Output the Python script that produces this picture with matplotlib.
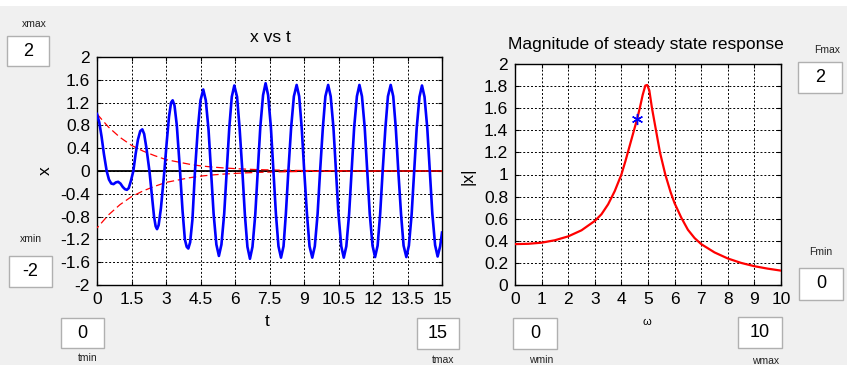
import matplotlib
matplotlib.use("Agg")
import matplotlib.pyplot as plt
from matplotlib.patches import Rectangle

plt.rcParams['font.family'] = ['Liberation Sans', 'DejaVu Sans']
plt.rcParams['axes.unicode_minus'] = False

# time response x(t)
t_vals = [0, 0.1, 0.2, 0.3, 0.42, 0.52, 0.62, 0.72, 0.82, 0.92, 1.02, 1.12, 1.22, 1.3,
          1.38, 1.47, 1.58, 1.68, 1.78, 1.88, 1.97, 2.05, 2.15, 2.28, 2.38, 2.48, 2.55,
          2.61, 2.68, 2.78, 2.93, 3.03, 3.13, 3.22, 3.29, 3.37, 3.47, 3.61, 3.72, 3.82,
          3.9, 3.97, 4.05, 4.15, 4.26,
          4.38, 4.50, 4.62, 4.73, 4.85, 4.96,
          5.07, 5.19, 5.30, 5.41, 5.53, 5.64,
          5.75, 5.86, 5.97, 6.09, 6.20, 6.32,
          6.43, 6.54, 6.65, 6.76, 6.88, 6.99,
          7.10, 7.22, 7.33, 7.44, 7.56, 7.67,
          7.78, 7.89, 8.00, 8.11, 8.21, 8.32,
          8.44, 8.56, 8.68, 8.79, 8.90, 9.01,
          9.13, 9.24, 9.36, 9.47, 9.59, 9.70,
          9.82, 9.93, 10.05, 10.16, 10.28, 10.39,
          10.50, 10.62, 10.73, 10.84, 10.96, 11.07,
          11.18, 11.30, 11.41, 11.52, 11.64, 11.75,
          11.86, 11.98, 12.09, 12.20, 12.31, 12.42,
          12.54, 12.65, 12.77, 12.88, 12.99, 13.10,
          13.22, 13.33, 13.45, 13.56, 13.68, 13.79,
          13.90, 14.02, 14.13, 14.24, 14.36, 14.47,
          14.58, 14.70, 14.81, 14.92, 15.0]
x_vals = [1.0, 0.85, 0.6, 0.3, 0.0, -0.15, -0.22, -0.23, -0.2, -0.19, -0.22, -0.28, -0.32, -0.33,
          -0.3, -0.18, 0.0, 0.3, 0.55, 0.7, 0.73, 0.65, 0.4, 0.0, -0.4, -0.8, -0.97,
          -1.02, -0.95, -0.65, 0.0, 0.5, 0.95, 1.2, 1.24, 1.15, 0.8, 0.0, -0.7, -1.2,
          -1.33, -1.36, -1.25, -0.85, 0.0,
          0.72, 1.24, 1.43, 1.24, 0.72, 0.0,
          -0.75, -1.29, -1.49, -1.29, -0.75, 0.0,
          0.75, 1.30, 1.50, 1.30, 0.75, 0.0,
          -0.77, -1.33, -1.54, -1.33, -0.77, 0.0,
          0.77, 1.33, 1.54, 1.33, 0.77, 0.0,
          -0.76, -1.32, -1.52, -1.32, -0.76, 0.0,
          0.76, 1.31, 1.51, 1.31, 0.76, 0.0,
          -0.76, -1.32, -1.52, -1.32, -0.76, 0.0,
          0.76, 1.31, 1.51, 1.31, 0.76, 0.0,
          -0.76, -1.32, -1.52, -1.32, -0.76, 0.0,
          0.76, 1.31, 1.51, 1.31, 0.76, 0.0,
          -0.76, -1.31, -1.51, -1.31, -0.76, 0.0,
          0.76, 1.31, 1.51, 1.31, 0.76, 0.0,
          -0.76, -1.31, -1.51, -1.31, -0.76, 0.0,
          0.75, 1.30, 1.50, 1.30, 0.75, 0.0,
          -0.75, -1.30, -1.50, -1.32, -1.08]

# decay envelope of the transient
env_t = [0, 0.5, 1, 1.5, 2, 2.5, 3, 3.5, 4, 4.5, 5, 5.5, 6, 6.5, 7, 7.5, 8, 9, 10,
         11, 12, 13, 14, 15]
env_x = [1.0, 0.77, 0.59, 0.45, 0.35, 0.27, 0.2, 0.16, 0.12, 0.09, 0.07, 0.054, 0.042,
         0.032, 0.024, 0.019, 0.014, 0.008, 0.005, 0.003, 0.002, 0.001, 0.0006, 0.0004]

# steady state amplitude vs forcing frequency
w_vals = [0, 0.5, 1, 1.5, 2, 2.5, 3, 3.25, 3.5, 3.75, 4, 4.15, 4.3, 4.45, 4.6, 4.7, 4.8,
          4.9, 4.97, 5.05, 5.15, 5.3, 5.45, 5.65, 5.85, 6, 6.25, 6.5, 6.75, 7, 7.5, 8,
          8.5, 9, 9.5, 10]
mag_vals = [0.37, 0.373, 0.383, 0.405, 0.44, 0.495, 0.58, 0.64, 0.73, 0.85, 1.0, 1.12,
            1.25, 1.38, 1.51, 1.61, 1.72, 1.805, 1.81, 1.76, 1.6, 1.4, 1.2, 1.0, 0.84,
            0.74, 0.61, 0.5, 0.425, 0.37, 0.295, 0.24, 0.2, 0.17, 0.148, 0.13]
w_drive = 4.6
mag_drive = 1.5

t_ticks = [0, 1.5, 3, 4.5, 6, 7.5, 9, 10.5, 12, 13.5, 15]
t_labels = ['0', '1.5', '3', '4.5', '6', '7.5', '9', '10.5', '12', '13.5', '15']
x_ticks = [-2, -1.6, -1.2, -0.8, -0.4, 0, 0.4, 0.8, 1.2, 1.6, 2]
x_labels = ['-2', '-1.6', '-1.2', '-0.8', '-0.4', '0', '0.4', '0.8', '1.2', '1.6', '2']
w_ticks = list(range(11))
m_ticks = [0, 0.2, 0.4, 0.6, 0.8, 1, 1.2, 1.4, 1.6, 1.8, 2]
m_labels = ['0', '0.2', '0.4', '0.6', '0.8', '1', '1.2', '1.4', '1.6', '1.8', '2']

# edit boxes: label, value, box in pixels (x0, y0, x1, y1), label centre
boxes = [
    ('xmax', '2', (7, 36, 49, 66), (34, 24)),
    ('xmin', '-2', (9, 256, 52, 287), (31, 239)),
    ('tmin', '0', (61, 318, 104, 348), (88, 358)),
    ('tmax', '15', (417, 318, 459, 349), (443, 360)),
    ('wmin', '0', (513, 318, 557, 349), (541, 360)),
    ('wmax', '10', (738, 317, 782, 348), (766, 361)),
    ('Fmax', '2', (798, 62, 842, 93), (827, 50)),
    ('Fmin', '0', (799, 268, 843, 300), (821, 252)),
]

W, H = 847, 365
fig = plt.figure(figsize=(W / 100, H / 100), dpi=100, facecolor='#f0f0f0')


def fx(px):
    return px / W


def fy(py):
    return 1 - py / H


# white strip along the top of the window
fig.add_artist(Rectangle((0, fy(6)), 1, 6 / H, transform=fig.transFigure,
                         facecolor='white', edgecolor='none'))


def style_axes(ax):
    ax.set_facecolor('white')
    ax.grid(True, color='black', linestyle=(0, (2, 2)), linewidth=0.7)
    ax.tick_params(direction='in', length=3, labelsize=12.5, pad=5,
                   top=True, right=True)
    for s in ax.spines.values():
        s.set_linewidth(1.0)


ax1 = fig.add_axes([fx(97), fy(285), fx(442) - fx(97), fy(57) - fy(285)])
style_axes(ax1)
ax1.axhline(0, color='black', linewidth=1.3, zorder=2)
ax1.plot(env_t, env_x, color='red', linewidth=0.9, linestyle=(0, (6, 3)), zorder=3)
ax1.plot(env_t, [-v for v in env_x], color='red', linewidth=0.9,
         linestyle=(4, (6, 3)), zorder=3)
ax1.plot(t_vals, x_vals, color='#0000ff', linewidth=1.9, zorder=4)
ax1.set_xlim(0, 15)
ax1.set_ylim(-2, 2)
ax1.set_xticks(t_ticks)
ax1.set_xticklabels(t_labels)
ax1.set_yticks(x_ticks)
ax1.set_yticklabels(x_labels)

ax2 = fig.add_axes([fx(515), fy(285), fx(781) - fx(515), fy(64) - fy(285)])
style_axes(ax2)
ax2.plot(w_vals, mag_vals, color='#ff0000', linewidth=1.6, zorder=3)
ax2.plot([w_drive], [mag_drive], linestyle='none', marker=(6, 2, 0), markersize=8,
         color='#0000ff', markeredgewidth=1.0, zorder=4)
ax2.set_xlim(0, 10)
ax2.set_ylim(0, 2)
ax2.set_xticks(w_ticks)
ax2.set_yticks(m_ticks)
ax2.set_yticklabels(m_labels)

# titles and axis labels
fig.text(fx(270), fy(38), 'x vs t', ha='center', va='center', fontsize=12.5)
fig.text(fx(646), fy(44), 'Magnitude of steady state response', ha='center',
         va='center', fontsize=12.5)
fig.text(fx(45), fy(171), 'x', ha='center', va='center', rotation=90, fontsize=12.5)
fig.text(fx(468), fy(176), '|x|', ha='center', va='center', rotation=90, fontsize=12.5)
fig.text(fx(267), fy(321), 't', ha='center', va='center', fontsize=12.5)
fig.text(fx(647), fy(322), 'ω', ha='center', va='center', fontsize=8)

for label, value, (x0, y0, x1, y1), (lx, ly) in boxes:
    fig.add_artist(Rectangle((fx(x0), fy(y1)), (x1 - x0) / W, (y1 - y0) / H,
                             transform=fig.transFigure, facecolor='white',
                             edgecolor='#b0b0b0', linewidth=1.0))
    fig.text(fx((x0 + x1) / 2), fy((y0 + y1) / 2), value, ha='center', va='center',
             fontsize=13)
    fig.text(fx(lx), fy(ly), label, ha='center', va='center', fontsize=7.5,
             color='#222222')

fig.savefig('out.png', dpi=100, facecolor=fig.get_facecolor())
